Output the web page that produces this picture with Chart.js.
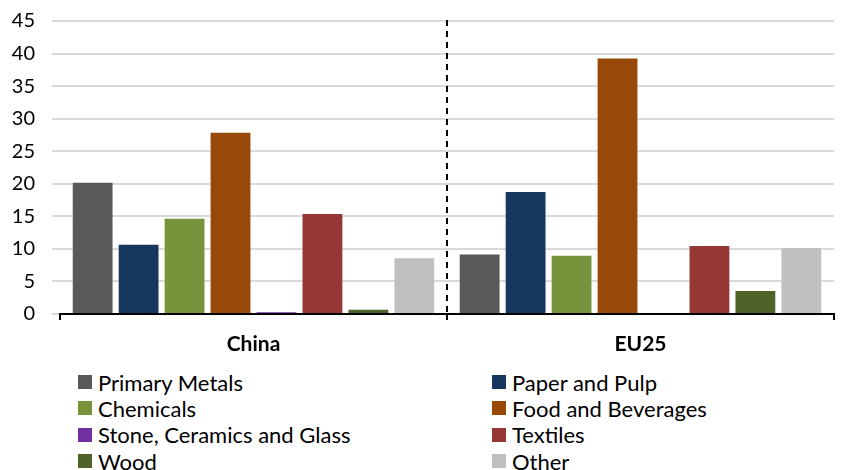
<!DOCTYPE html>
<html>
<head>
<meta charset="utf-8">
<script src="https://cdn.jsdelivr.net/npm/chart.js@4/dist/chart.umd.min.js"></script>
<style>
  html, body { margin: 0; padding: 0; background: #fff; }
  body { width: 848px; height: 470px; position: relative; overflow: hidden; font-family: Lato, "Open Sans", sans-serif; }
  #wrap { position: absolute; left: 0; top: 0; width: 848px; height: 360px; }
  #legend {
    position: absolute; left: 78px; top: 369px;
    display: grid; grid-template-columns: 414px auto; grid-auto-rows: 26.3px;
  }
  .item { display: flex; align-items: center; font-size: 22px; color: #000; white-space: nowrap; }
  .sw { width: 14px; height: 14px; margin-right: 6px; flex: none; }
</style>
</head>
<body>
<div id="wrap"><canvas id="chart"></canvas></div>
<div id="legend"></div>
<script>
// Regions compared
const categories = ['China', 'EU25'];

// Share by industry, per region
const primaryMetals = [20.3, 9.3];
const paperAndPulp  = [10.8, 18.9];
const chemicals     = [14.8, 9.1];
const foodBeverages = [28.0, 39.4];
const stoneGlass    = [0.4, 0.15];
const textiles      = [15.5, 10.6];
const wood          = [0.8, 3.7];
const other         = [8.7, 10.3];

const seriesNames = ['Primary Metals', 'Paper and Pulp', 'Chemicals', 'Food and Beverages',
                     'Stone, Ceramics and Glass', 'Textiles', 'Wood', 'Other'];
const seriesValues = [primaryMetals, paperAndPulp, chemicals, foodBeverages,
                      stoneGlass, textiles, wood, other];
const seriesColors = ['#595959', '#17375e', '#77933c', '#984807',
                      '#7030a0', '#953735', '#4f6228', '#bfbfbf'];

// Dashed separator between the two region groups
const groupDivider = {
  id: 'groupDivider',
  afterDatasetsDraw(chart) {
    const x = chart.scales.x;
    const area = chart.chartArea;
    const px = (x.getPixelForValue(0) + x.getPixelForValue(1)) / 2;
    const ctx = chart.ctx;
    ctx.save();
    ctx.strokeStyle = '#000';
    ctx.lineWidth = 2;
    ctx.setLineDash([6, 5]);
    ctx.beginPath();
    ctx.moveTo(px, area.top - 1);
    ctx.lineTo(px, area.bottom);
    ctx.stroke();
    ctx.restore();
  }
};

const chart = new Chart(document.getElementById('chart'), {
  type: 'bar',
  data: {
    labels: categories,
    datasets: seriesNames.map((name, i) => ({
      label: name,
      data: seriesValues[i],
      backgroundColor: seriesColors[i],
      borderColor: 'rgba(255,255,255,0.3)',
      borderWidth: 1,
      categoryPercentage: 0.95,
      barPercentage: 0.91
    }))
  },
  options: {
    responsive: true,
    maintainAspectRatio: false,
    animation: false,
    layout: { padding: { top: 21, right: 14, left: 0, bottom: 0 } },
    plugins: { legend: { display: false }, tooltip: { enabled: false } },
    scales: {
      x: {
        offset: true,
        grid: { display: true, drawOnChartArea: false, color: '#000', lineWidth: 2, tickLength: 6 },
        border: { display: true, color: '#000', width: 2 },
        ticks: { color: '#000', padding: 12, font: { family: 'Lato', size: 21, weight: 'bold' } },
        afterFit(scale) { scale.height = 46; }
      },
      y: {
        min: 0, max: 45,
        ticks: { stepSize: 5, color: '#000', padding: 17, font: { family: 'Lato', size: 20 } },
        grid: { color: '#d9d9d9', lineWidth: 2, tickLength: 8 },
        border: { display: false },
        afterFit(scale) { scale.width = 60; scale.paddingTop = 0; scale.paddingBottom = 0; }
      }
    }
  },
  plugins: [groupDivider]
});

// Two-column legend built from the same series
const legend = document.getElementById('legend');
seriesNames.forEach((name, i) => {
  const item = document.createElement('div');
  item.className = 'item';
  const sw = document.createElement('span');
  sw.className = 'sw';
  sw.style.background = seriesColors[i];
  item.appendChild(sw);
  item.appendChild(document.createTextNode(name));
  legend.appendChild(item);
});
</script>
</body>
</html>
